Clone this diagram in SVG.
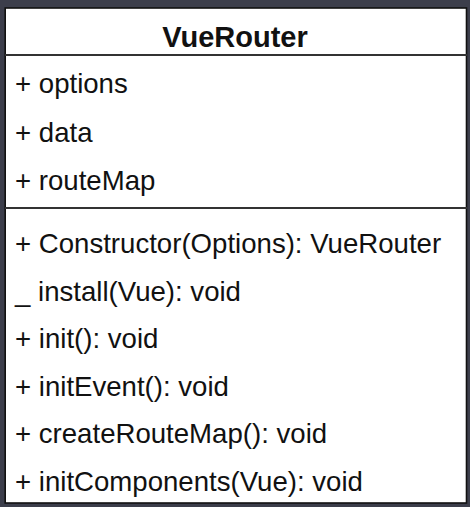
<svg xmlns="http://www.w3.org/2000/svg" width="470" height="507" viewBox="0 0 470 507">
<style>
.t{font-family:"Liberation Sans",Arial,sans-serif;font-size:27.6px;fill:#111}
.h{font-family:"Liberation Sans",Arial,sans-serif;font-size:29px;font-weight:bold;fill:#111}
.ln{stroke:#333;stroke-width:2}
</style>
<rect x="0" y="0" width="470" height="507" fill="#3c3e4b"/>
<g id="VueRouter">
<rect x="5.2" y="8" width="461.3" height="495" fill="#fff" stroke="#111" stroke-width="1.6"/>
<text class="h" x="235" y="47" text-anchor="middle">VueRouter</text>
<line class="ln" x1="5" y1="55" x2="467" y2="55"/>
<text class="t" x="15" y="93">+ options</text>
<text class="t" x="15" y="141.5">+ data</text>
<text class="t" x="15" y="190">+ routeMap</text>
<line class="ln" x1="5" y1="208" x2="467" y2="208"/>
<text class="t" x="15" y="253">+ Constructor(Options): VueRouter</text>
<text class="t" x="15" y="300.5">_ install(Vue): void</text>
<text class="t" x="15" y="348">+ init(): void</text>
<text class="t" x="15" y="395.5">+ initEvent(): void</text>
<text class="t" x="15" y="443">+ createRouteMap(): void</text>
<text class="t" x="15" y="491">+ initComponents(Vue): void</text>
</g>
<g id="connectors"/>
</svg>
